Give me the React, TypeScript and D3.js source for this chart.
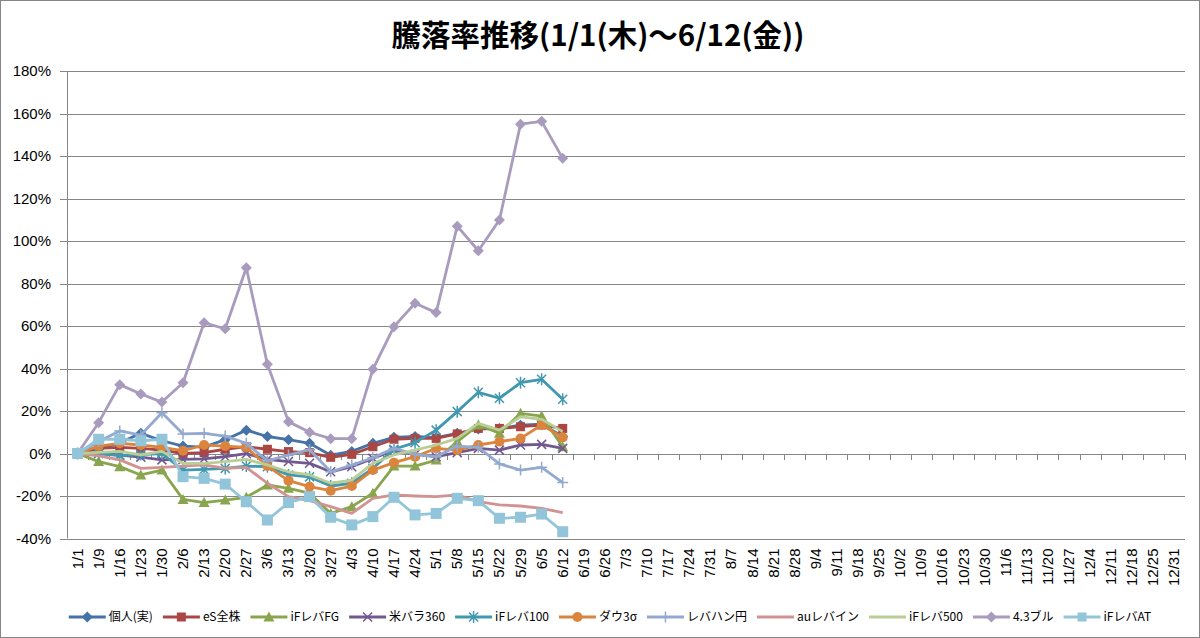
import React from "react";
import * as d3 from "d3";

const categories = [
  "1/1","1/9","1/16","1/23","1/30","2/6","2/13","2/20","2/27","3/6","3/13","3/20","3/27",
  "4/3","4/10","4/17","4/24","5/1","5/8","5/15","5/22","5/29","6/5","6/12","6/19","6/26",
  "7/3","7/10","7/17","7/24","7/31","8/7","8/14","8/21","8/28","9/4","9/11","9/18","9/25",
  "10/2","10/9","10/16","10/23","10/30","11/6","11/13","11/20","11/27","12/4","12/11","12/18",
  "12/25","12/31",
];

const yTicks = [-40, -20, 0, 20, 40, 60, 80, 100, 120, 140, 160, 180];

const kojin = [0, 2, 5, 9.5, 6, 3.5, 3, 6.5, 11, 8, 6.5, 4.8, -0.8, 1, 4.8, 7.6, 8, 7.5, 9.5, 11.5, 11.8, 13.3, 13.8, 8];
const esZenkabu = [0, 2.4, 2.9, 2.4, 1.6, 0, 0.4, 2, 3.2, 2, 0.9, 0.4, -1.8, -0.4, 3.2, 6.7, 7.1, 7.1, 9.2, 11.8, 11.8, 12.6, 13.4, 11.8];
const ifFG = [0, -3.8, -6.2, -10.1, -7.8, -21.6, -23.1, -21.9, -20.6, -14.8, -16.4, -18.7, -28.2, -25, -18.7, -5.9, -5.9, -3.1, 5.6, 13.4, 9.5, 18.9, 17.6, 3.2];
const beibara = [0, 0, -0.7, -1.7, -3, -2.8, -2.5, -1.5, -0.1, -2.8, -3.8, -4.6, -8.6, -6.2, -2.3, 1.6, -0.4, -1.5, 0.4, 2.4, 1.6, 4, 4.3, 2.4];
const if100 = [0, 0, -1, -0.5, 0, -7.8, -7.5, -7, -5.9, -6.2, -10.1, -11, -15.3, -14, -7, 2, 5.1, 11, 19.7, 28.8, 26, 33.3, 34.9, 25.5];
const dow3 = [0, 3.5, 4.8, 4, 2.9, 1.3, 4, 3.5, 2.9, -5.9, -12.8, -15.6, -17.5, -15.3, -7.8, -4.3, -1.5, 2.4, 1.6, 4, 5.6, 7.1, 13.4, 7.6];
const rebahan = [0, 5.6, 10.6, 8.7, 19.2, 9.2, 9.5, 8.2, 4.8, -3.5, -0.7, 1.8, -8.6, -5.4, -2, 2.4, -0.4, -1.5, 3.5, 2.9, -4.9, -7.8, -6.5, -13.7];
const aurebain = [0, -1.1, -3, -7, -6.5, -5.9, -5.4, -7, -6.5, -14, -20.3, -22.2, -25, -28.2, -21.1, -19.5, -20, -20.3, -19.5, -22.7, -24.2, -24.7, -25.8, -27.8];
const if500 = [0, 0.5, 1, -0.7, 1, -4.6, -4.6, -3.8, -2.8, -5.4, -8.6, -10.1, -14, -12.5, -4.6, -0.7, 1.6, 4, 7.1, 14.2, 11, 17.3, 16.1, 10.3];
const bull43 = [0, 14.5, 32.4, 28, 24.2, 33.3, 61.5, 58.7, 87.4, 42, 15, 10, 7, 7, 39.6, 59.7, 70.7, 66.3, 107, 95.4, 109.9, 155, 156.3, 138.9];
const ifAT = [0, 6.7, 6.7, 6, 6.7, -10.9, -11.7, -14.4, -22.7, -31.3, -23.1, -20.3, -30, -33.6, -29.7, -20.6, -28.9, -28.2, -21.1, -22.2, -30.5, -30, -28.5, -36.8];

const seriesNames = ["個人(実)", "eS全株", "iFレバFG", "米バラ360", "iFレバ100", "ダウ3σ", "レバハン円", "auレバイン", "iFレバ500", "4.3ブル", "iFレバAT"];
const seriesValues = [kojin, esZenkabu, ifFG, beibara, if100, dow3, rebahan, aurebain, if500, bull43, ifAT];
const seriesColors = ["#4572A7", "#AA4643", "#89A54E", "#71588F", "#4198AF", "#DB843D", "#93A9CF", "#D19392", "#B9CD96", "#A99BBD", "#92C5DA"];
const seriesMarkers = ["diamond", "square", "triangle", "x", "star", "circle", "plus", "none", "none", "diamond", "bigsquare"];

const W = 1200;
const H = 638;
const plotLeft = 67;
const plotRight = 1185;
const plotTop = 71;
const plotBottom = 538.5;
const gridColor = "#868686";
const latin = "'Liberation Sans', Arial, sans-serif";
const cjk = "'Noto Sans CJK JP', 'Noto Sans', sans-serif";

function Marker({ kind, x, y, color }: { kind: string; x: number; y: number; color: string }) {
  switch (kind) {
    case "diamond":
      return <path d={`M${x},${y - 5.5}L${x + 5.5},${y}L${x},${y + 5.5}L${x - 5.5},${y}Z`} fill={color} />;
    case "square":
      return <rect x={x - 4.5} y={y - 4.5} width={9} height={9} fill={color} />;
    case "bigsquare":
      return <rect x={x - 5.5} y={y - 5.5} width={11} height={11} fill={color} />;
    case "triangle":
      return <path d={`M${x},${y - 5.5}L${x + 5.5},${y + 4.5}L${x - 5.5},${y + 4.5}Z`} fill={color} />;
    case "circle":
      return <circle cx={x} cy={y} r={5} fill={color} />;
    case "x":
      return (
        <path d={`M${x - 4.5},${y - 4.5}L${x + 4.5},${y + 4.5}M${x - 4.5},${y + 4.5}L${x + 4.5},${y - 4.5}`} stroke={color} strokeWidth={1.5} fill="none" />
      );
    case "star":
      return (
        <path d={`M${x - 4.5},${y - 4.5}L${x + 4.5},${y + 4.5}M${x - 4.5},${y + 4.5}L${x + 4.5},${y - 4.5}M${x},${y - 6}L${x},${y + 6}`} stroke={color} strokeWidth={1.5} fill="none" />
      );
    case "plus":
      return (
        <path d={`M${x - 5.5},${y}L${x + 5.5},${y}M${x},${y - 5.5}L${x},${y + 5.5}`} stroke={color} strokeWidth={1.5} fill="none" />
      );
    default:
      return null;
  }
}

function measure(text: string, font: string): number {
  const c = document.createElement("canvas");
  const ctx = c.getContext("2d");
  if (!ctx) return text.length * 12;
  ctx.font = font;
  return ctx.measureText(text).width;
}

export default function App() {
  const x = d3.scaleBand<string>().domain(categories).range([plotLeft, plotRight]).paddingInner(0).paddingOuter(0);
  const y = d3.scaleLinear().domain([-40, 180]).range([plotBottom, plotTop]);
  const step = x.step();
  const cx = (i: number) => (x(categories[i]) as number) + step / 2;
  const y0 = y(0);

  const line = d3
    .line<number>()
    .x((_, i) => cx(i))
    .y((d) => y(d));

  // legend layout
  const legendFont = `12px ${cjk}`;
  const symW = 37;
  const widths = seriesNames.map((n) => symW + 3 + measure(n, legendFont) + 10);
  const total = widths.reduce((a, b) => a + b, 0) - 10;
  let lx = 610 - total / 2;
  const legendItems = seriesNames.map((n, i) => {
    const item = { x: lx, name: n, i };
    lx += widths[i];
    return item;
  });
  const legendY = 617;

  return (
    <div style={{ position: "absolute", left: 0, top: 0 }}>
      <svg width={W} height={H} style={{ display: "block", background: "#fff" }}>
        <rect x={0.5} y={0.5} width={W - 1} height={H - 1} fill="#fff" stroke={gridColor} strokeWidth={1} />
        <text x={598} y={46} textAnchor="middle" fontFamily={cjk} fontWeight={700} fontSize={29.5} fill="#000">
          騰落率推移(1/1(木)～6/12(金))
        </text>

        {/* gridlines + y ticks */}
        {yTicks.map((t) => (
          <g key={t}>
            <line x1={plotLeft - 7} x2={plotRight} y1={Math.round(y(t)) + 0.5} y2={Math.round(y(t)) + 0.5} stroke={gridColor} strokeWidth={1} />
            <text x={51} y={y(t)} dy="0.35em" textAnchor="end" fontFamily={latin} fontSize={15} fill="#000">
              {`${t}%`}
            </text>
          </g>
        ))}
        <line x1={plotLeft + 0.5} x2={plotLeft + 0.5} y1={plotTop} y2={plotBottom} stroke={gridColor} strokeWidth={1} />

        {/* category axis at 0 with ticks */}
        <line x1={plotLeft} x2={plotRight} y1={Math.round(y0) + 0.5} y2={Math.round(y0) + 0.5} stroke={gridColor} strokeWidth={1} />
        {categories.map((c, i) => {
          const xb = Math.round((x(c) as number) + step) + 0.5;
          return <line key={"t" + i} x1={xb} x2={xb} y1={Math.round(y0)} y2={Math.round(y0) + 6} stroke={gridColor} strokeWidth={1} />;
        })}

        {/* category labels */}
        {categories.map((c, i) => (
          <text
            key={"l" + i}
            transform={`translate(${cx(i) + 5},${plotBottom + 10}) rotate(-90)`}
            textAnchor="end"
            fontFamily={latin}
            fontSize={15}
            fill="#000"
          >
            {c}
          </text>
        ))}

        {/* series */}
        {seriesValues.map((vals, si) => (
          <g key={"s" + si}>
            <path d={line(vals) || ""} fill="none" stroke={seriesColors[si]} strokeWidth={2.8} strokeLinejoin="round" />
            {vals.map((v, i) => (
              <Marker key={i} kind={seriesMarkers[si]} x={cx(i)} y={y(v)} color={seriesColors[si]} />
            ))}
          </g>
        ))}

        {/* legend */}
        {legendItems.map((it) => (
          <g key={"lg" + it.i}>
            <line x1={it.x} x2={it.x + symW} y1={legendY} y2={legendY} stroke={seriesColors[it.i]} strokeWidth={2.8} />
            <Marker kind={seriesMarkers[it.i] === "bigsquare" ? "square" : seriesMarkers[it.i]} x={it.x + symW / 2} y={legendY} color={seriesColors[it.i]} />
            <text x={it.x + symW + 3} y={legendY} dy="0.36em" fontFamily={cjk} fontSize={12} fill="#000">
              {it.name}
            </text>
          </g>
        ))}
      </svg>
    </div>
  );
}
